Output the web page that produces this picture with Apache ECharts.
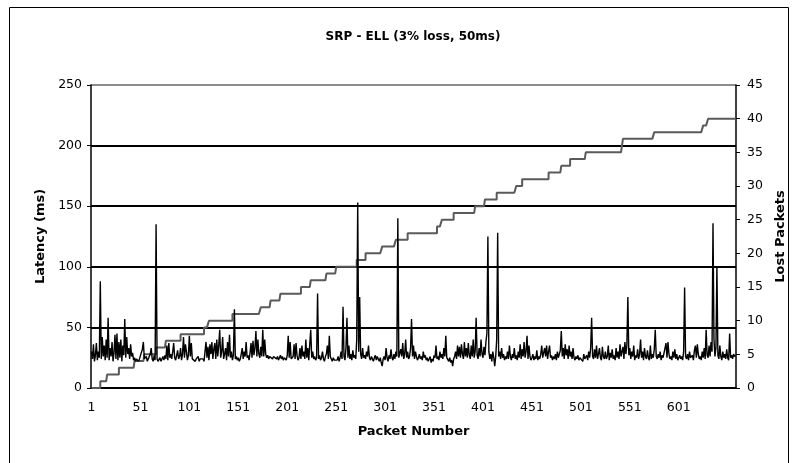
<!DOCTYPE html>
<html>
<head>
<meta charset="utf-8">
<title>SRP - ELL (3% loss, 50ms)</title>
<script src="https://cdn.jsdelivr.net/npm/echarts@6/dist/echarts.min.js"></script>
<style>
  html, body { margin: 0; padding: 0; background: #fff; }
  #chart { width: 795px; height: 463px; }
</style>
</head>
<body>
<div id="chart"></div>
<script>
// latency per packet (ms), 25 packets per row
var latency = [
  30,24,36,22,27,37,23,30,25,88,24,42,26,35,23,40,25,58,23,33,26,38,22,29,44,
  24,45,23,38,25,40,22,35,27,57,25,42,28,33,24,36,26,29,23,25,22,24,23,22,24,
  23,25,32,38,24,23,26,22,24,23,28,33,24,22,27,23,135,24,22,23,25,22,24,26,23,
  27,24,35,23,37,25,28,24,30,37,25,23,27,31,24,26,33,23,28,42,25,36,30,23,27,
  43,26,37,24,23,25,22,24,23,26,22,24,23,25,24,22,30,38,25,34,23,36,28,38,24,
  32,37,24,40,26,35,48,25,30,42,24,28,33,23,38,26,44,25,30,23,27,65,24,26,23,
  25,22,24,28,33,24,30,26,38,25,27,23,29,37,25,39,27,33,47,26,40,28,25,34,26,
  48,26,40,28,25,27,24,26,25,27,24,26,25,27,24,26,23,25,27,24,26,23,25,24,23,
  27,43,25,38,24,23,26,36,24,37,27,23,25,33,24,35,26,30,24,40,25,33,23,36,48,
  25,30,24,26,23,25,78,24,27,23,25,30,24,22,26,28,35,24,43,26,24,22,25,23,22,
  24,23,26,22,25,30,24,67,26,23,33,58,25,35,24,28,23,31,25,27,24,40,153,30,75,
  28,24,33,25,27,24,30,26,35,25,23,26,24,22,25,27,23,26,24,22,25,21,18,24,26,
  23,33,25,22,27,24,32,25,23,28,24,30,26,140,25,24,32,26,37,24,28,40,25,30,24,
  26,33,57,26,35,24,30,26,23,25,28,24,26,23,30,25,27,23,25,22,24,26,21,24,22,
  27,25,35,24,26,23,30,25,28,24,33,26,43,25,24,22,25,21,23,18,24,26,30,24,35,
  26,34,25,36,28,24,38,26,33,25,37,27,24,35,26,40,25,30,58,27,24,33,26,40,28,
  25,34,27,38,45,125,30,24,28,22,30,25,18,26,40,128,26,30,24,33,25,28,23,26,24,
  30,24,35,26,23,28,25,33,24,27,23,30,25,36,24,32,26,38,25,30,43,24,35,26,23,
  25,28,23,26,24,31,23,26,24,28,35,25,24,33,26,35,24,30,35,25,27,23,26,24,28,
  23,30,25,24,31,47,26,33,24,36,27,32,24,35,26,30,24,33,25,23,26,24,27,23,25,
  24,26,22,28,24,25,27,23,30,25,33,58,26,24,32,25,35,24,28,33,25,23,34,26,24,
  30,24,26,35,23,29,25,32,24,27,23,33,25,30,24,36,26,25,34,24,38,28,35,75,27,
  33,24,30,26,35,23,27,25,32,24,28,40,25,30,23,33,26,24,31,25,23,35,24,28,25,
  32,48,26,24,28,25,30,23,27,25,24,33,37,25,38,28,24,26,23,30,25,32,24,28,23,
  25,27,24,26,23,30,83,26,24,28,23,30,25,24,27,23,31,35,25,36,28,24,26,23,30,
  25,33,24,48,27,25,35,26,38,30,136,40,26,33,100,27,24,35,26,23,30,25,28,24,32,
  25,23,45,25,27,24,28,26,27
];

// packet numbers at which a packet was lost
var lostAt = [10, 17, 29, 45, 55, 67, 77, 92, 116, 121, 145, 174, 184, 194, 215,
  225, 241, 251, 272, 281, 298, 312, 324, 354, 359, 371, 393, 403, 415, 435,
  441, 468, 481, 490, 506, 543, 544, 576, 626, 631];

var leftTicks = { min: 0, max: 250, step: 50 };
var rightTicks = { min: 0, max: 45, step: 5 };
var labelEvery = 50;   // packet-number labels: 1, 51, ... 601
var lastLabel = 601;

// category list: packet numbers 1..N
var packets = [];
for (var i = 0; i < latency.length; i++) packets.push(String(i + 1));

// running total of lost packets
var lostCount = [];
var k = 0;
for (var p = 1; p <= latency.length; p++) {
  while (k < lostAt.length && lostAt[k] <= p) k++;
  lostCount.push(k);
}

var FONT = '"DejaVu Sans", Arial, sans-serif';
var chart = echarts.init(document.getElementById('chart'), null, { renderer: 'canvas' });

var option = {
  backgroundColor: '#fff',
  animation: false,
  title: {
    text: 'SRP - ELL (3% loss, 50ms)',
    left: 408,
    top: 26,
    textAlign: 'center',
    textStyle: { fontFamily: FONT, fontSize: 12, fontWeight: 'bold', color: '#000' }
  },
  graphic: [{
    type: 'rect',
    shape: { x: 9.5, y: 7.5, width: 779, height: 470 },
    style: { fill: 'none', stroke: '#000', lineWidth: 1 },
    silent: true
  }],
  grid: { left: 91, right: 59, top: 85, bottom: 75 },
  xAxis: {
    type: 'category',
    data: packets,
    boundaryGap: true,
    name: 'Packet Number',
    nameLocation: 'middle',
    nameGap: 37,
    nameTextStyle: { fontFamily: FONT, fontSize: 13, fontWeight: 'bold', color: '#000' },
    axisLine: { lineStyle: { color: '#000', width: 1.5 } },
    axisTick: { interval: 24, alignWithLabel: true, length: 4, lineStyle: { color: '#000' } },
    axisLabel: {
      interval: function (idx) { return idx % labelEvery === 0 && idx < lastLabel; },
      margin: 13, fontFamily: FONT, fontSize: 12.5, color: '#000'
    },
    splitLine: { show: false }
  },
  yAxis: [{
    type: 'value',
    min: leftTicks.min,
    max: leftTicks.max,
    interval: leftTicks.step,
    name: 'Latency (ms)',
    nameLocation: 'middle',
    nameRotate: 90,
    nameGap: 44,
    nameTextStyle: { fontFamily: FONT, fontSize: 13, fontWeight: 'bold', color: '#000' },
    axisLine: { show: true, lineStyle: { color: '#000', width: 1.5 } },
    axisTick: { show: true, length: 4, lineStyle: { color: '#000' } },
    axisLabel: { margin: 9, fontFamily: FONT, fontSize: 12.5, color: '#000' },
    splitLine: { show: true, lineStyle: { color: ['#000', '#000', '#000', '#000', '#000', '#8c8c8c'], width: 2 } }
  }, {
    type: 'value',
    position: 'right',
    min: rightTicks.min,
    max: rightTicks.max,
    interval: rightTicks.step,
    name: 'Lost Packets',
    nameLocation: 'middle',
    nameRotate: 90,
    nameGap: 38,
    nameTextStyle: { fontFamily: FONT, fontSize: 13, fontWeight: 'bold', color: '#000' },
    axisLine: { show: true, lineStyle: { color: '#000', width: 1.5 } },
    axisTick: { show: true, length: 4, lineStyle: { color: '#000' } },
    axisLabel: { margin: 11, fontFamily: FONT, fontSize: 12.5, color: '#000' },
    splitLine: { show: false }
  }],
  series: [{
    name: 'Lost Packets',
    type: 'line',
    yAxisIndex: 1,
    data: lostCount,
    step: 'end',
    showSymbol: false,
    lineStyle: { color: '#5a5a5a', width: 2 },
    z: 2
  }, {
    name: 'Latency',
    type: 'line',
    yAxisIndex: 0,
    data: latency,
    showSymbol: false,
    lineStyle: { color: '#000', width: 1.4 },
    z: 3
  }]
};

chart.setOption(option);
</script>
</body>
</html>
